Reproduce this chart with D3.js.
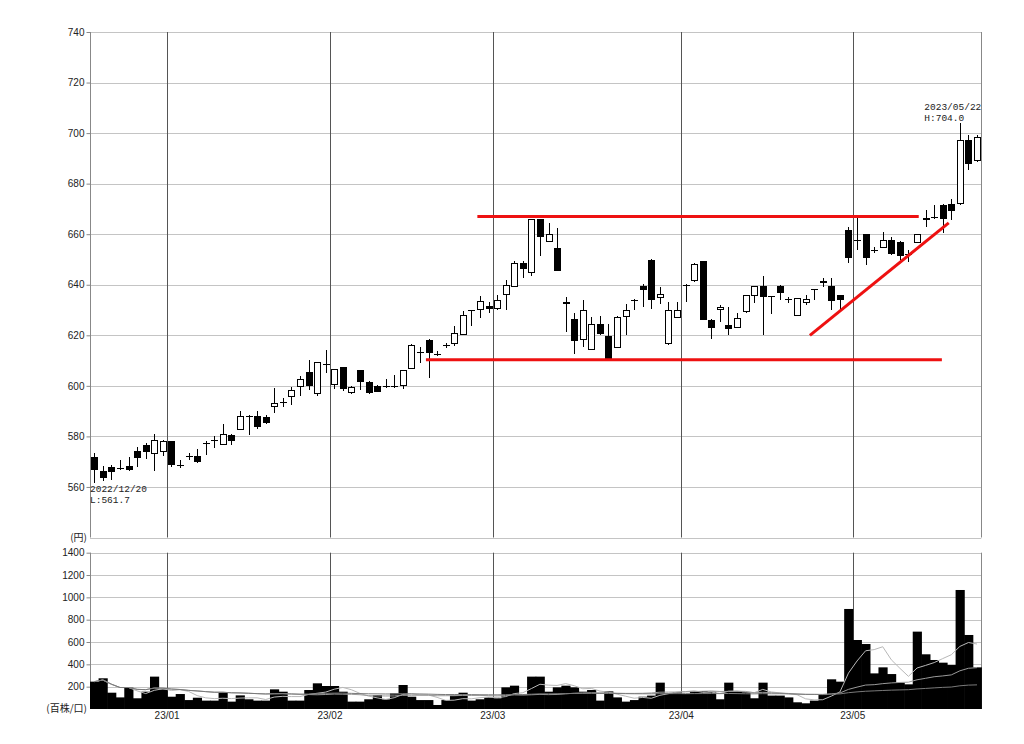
<!DOCTYPE html>
<html><head><meta charset="utf-8">
<script src="https://cdn.jsdelivr.net/npm/d3@7"></script>
<style>
html,body{margin:0;padding:0;background:#fff;}
svg{display:block;}
.tick text{font-family:"Liberation Sans",Arial,sans-serif;font-size:10px;fill:#222;}
</style></head>
<body>
<svg id="chart" width="1024" height="744"></svg>
<script>
// ---- Trading days (categories) ----
const daysDec22 = [20,21,22,23,26,27,28,29,30];
const daysJan23 = [4,5,6,10,11,12,13,16,17,18,19,20,23,24,25,26,27,30,31];
const daysFeb23 = [1,2,3,6,7,8,9,10,13,14,15,16,17,20,21,22,24,27,28];
const daysMar23 = [1,2,3,6,7,8,9,10,13,14,15,16,17,20,22,23,24,27,28,29,30,31];
const daysApr23 = [3,4,5,6,7,10,11,12,13,14,17,18,19,20,21,24,25,26,27,28];
const daysMay23 = [1,2,8,9,10,11,12,15,16,17,18,19,22,23,24];

// ---- Price series (yen) ----
const openP = [571.7,566.2,567.9,567.2,568.4,574.1,576.6,573.2,573.8,578.0,
568.8,572.0,572.1,577.0,578.5,576.7,580.7,582.6,588.2,588.0,
587.8,591.5,593.3,595.5,599.7,605.3,596.8,608.8,600.4,607.3,
597.1,606.1,601.7,600.0,599.9,600.0,600.0,606.8,613.5,618.3,
612.6,615.8,616.7,620.0,629.8,630.1,631.7,630.4,636.1,639.1,
648.8,644.6,665.9,657.1,654.7,632.5,626.5,618.0,614.1,624.3,
619.6,615.1,627.2,634.1,639.7,649.9,634.9,616.4,627.0,639.5,
641.4,649.3,626.2,629.9,624.0,622.9,629.1,635.4,639.6,635.5,
639.7,634.1,627.8,632.9,638.3,641.4,639.6,635.8,661.7,657.5,
659.9,653.6,654.7,657.6,657.0,652.3,656.6,666.6,666.7,671.4,
671.8,671.8,697.4,688.8];
const highP = [573.4,568.4,568.5,570.8,571.8,575.8,577.4,580.9,578.6,578.2,
570.5,573.4,575.0,578.3,580.0,585.0,580.9,590.1,588.5,590.1,
588.5,599.1,595.0,599.7,603.7,610.3,609.6,614.0,606.8,607.5,
599.9,606.3,601.9,600.3,602.6,604.4,606.3,616.5,615.5,618.5,
613.8,616.8,623.6,629.5,630.2,635.4,633.0,636.0,642.0,649.2,
649.2,665.9,665.9,664.6,662.6,635.2,629.0,633.8,627.2,627.5,
624.6,627.5,632.5,634.3,640.4,650.0,639.1,633.2,633.2,640.2,
648.5,649.5,626.4,631.8,631.1,628.8,636.0,639.6,643.6,635.6,
639.8,635.1,634.9,636.0,638.5,642.6,642.6,636.0,663.0,667.5,
660.0,655.0,660.9,659.0,657.2,653.7,660.2,669.5,671.4,672.1,
674.1,704.0,699.1,699.3];
const lowP = [561.7,562.2,562.9,566.8,566.2,567.9,571.0,566.4,572.2,568.0,
567.5,570.8,569.5,572.8,575.4,576.4,576.7,582.6,580.7,583.0,
585.0,589.1,591.5,592.5,596.0,598.4,596.0,605.0,598.7,598.0,
596.8,598.4,596.8,597.5,599.0,599.0,598.7,606.6,609.2,603.0,
612.0,615.0,615.7,620.0,623.6,626.8,628.8,630.0,630.1,639.1,
642.6,643.6,651.2,657.0,645.5,621.5,612.6,615.4,614.0,620.0,
610.3,615.0,620.0,629.9,631.2,630.5,632.5,616.0,626.8,633.2,
641.2,626.2,618.7,625.3,620.3,622.9,629.0,632.8,620.3,628.6,
634.0,632.8,627.7,632.0,634.1,639.0,630.1,630.1,648.8,653.7,
647.8,652.4,654.6,651.7,649.7,649.1,656.5,663.0,666.2,660.3,
665.5,671.6,685.5,688.6];
const closeP = [566.8,563.6,565.9,567.5,566.8,571.4,574.0,578.7,578.0,568.6,
568.6,572.2,569.7,577.2,578.7,581.1,578.0,588.2,588.0,583.7,
585.4,593.4,593.5,598.4,602.6,600.0,609.4,608.6,606.6,598.7,
599.7,601.7,597.1,597.7,600.1,600.1,606.1,616.3,613.3,612.8,
612.4,616.0,620.9,628.2,630.0,633.4,630.5,633.8,640.0,648.6,
646.2,665.9,658.7,660.0,645.5,633.3,617.8,630.1,624.6,620.7,
610.5,627.2,629.9,633.4,638.0,634.1,636.2,630.1,629.9,640.0,
648.3,626.2,623.0,631.2,622.6,626.8,635.8,639.6,635.0,635.4,
636.7,634.3,634.7,634.4,637.8,640.7,633.4,634.1,650.5,657.7,
650.4,653.8,657.6,652.1,651.4,652.1,660.0,665.5,666.9,666.2,
669.1,697.1,687.6,698.4];

// ---- Volume (百株) ----
const volume = [245,275,146,104,191,96,155,290,176,110,
134,80,101,75,75,150,66,122,87,75,
75,176,155,75,75,170,230,206,206,155,
66,66,87,125,87,140,215,110,80,80,
36,80,120,146,75,87,104,96,194,209,
125,290,290,155,194,209,194,155,170,75,
158,104,66,80,110,120,236,140,150,134,
158,161,155,87,236,161,150,96,236,120,
120,104,60,51,75,125,266,245,896,618,
582,319,373,313,236,221,693,490,439,415,
394,1066,663,373];

// ---- Axis ticks / labels ----
const priceTicks = [560,580,600,620,640,660,680,700,720,740];
const volumeTicks = [200,400,600,800,1000,1200,1400];
const monthLabels = ["23/01","23/02","23/03","23/04","23/05"];
const monthKeys = ["2023/01","2023/02","2023/03","2023/04","2023/05"];
const maPeriods = [5,25,75];

// ---- Annotation lines: [day index, price] ----
const resistanceLine = [[44.7,667.0],[96.2,667.0]];
const supportLine = [[38.7,610.3],[98.9,610.3]];
const trendLine = [[83.5,620.0],[99.7,664.5]];

// ---------------------------------------------------------
const pad = n => String(n).padStart(2,"0");
const dates = [].concat(
  daysDec22.map(d=>"2022/12/"+pad(d)),
  daysJan23.map(d=>"2023/01/"+pad(d)),
  daysFeb23.map(d=>"2023/02/"+pad(d)),
  daysMar23.map(d=>"2023/03/"+pad(d)),
  daysApr23.map(d=>"2023/04/"+pad(d)),
  daysMay23.map(d=>"2023/05/"+pad(d)));
const n = dates.length;

const svg = d3.select("#chart");
const L = 90, R = 981.3;
const pTop = 32, pBot = 537.5, vTop = 552.7, vBot = 709;

const x = d3.scaleBand().domain(d3.range(n)).range([L,R]).padding(0);
const bw = x.bandwidth();
const xc = i => x(0) + (i+0.5)*bw;
const yP = d3.scaleLinear().domain([540,740]).range([pBot,pTop]);
const yV = d3.scaleLinear().domain([0,1400]).range([vBot,vTop]);

const gridColor = "#c4c4c4", monthColor = "#555", axisColor = "#888";

// horizontal grid - price
svg.append("g").selectAll("line").data(priceTicks.concat([540])).join("line")
  .attr("x1",L).attr("x2",R)
  .attr("y1",d=>Math.round(yP(d))+0.5).attr("y2",d=>Math.round(yP(d))+0.5)
  .attr("stroke",gridColor).attr("stroke-width",1);
// horizontal grid - volume
svg.append("g").selectAll("line").data(volumeTicks).join("line")
  .attr("x1",L).attr("x2",R)
  .attr("y1",d=>Math.round(yV(d))+0.5).attr("y2",d=>Math.round(yV(d))+0.5)
  .attr("stroke",gridColor).attr("stroke-width",1);

// month boundary lines
const monthIdx = monthKeys.map(k => dates.findIndex(d => d.startsWith(k)));
const mg = svg.append("g");
monthIdx.forEach(i=>{
  const xx = Math.round(x(i))+0.5;
  mg.append("line").attr("x1",xx).attr("x2",xx).attr("y1",pTop).attr("y2",pBot)
    .attr("stroke",monthColor).attr("stroke-width",1);
  mg.append("line").attr("x1",xx).attr("x2",xx).attr("y1",vTop).attr("y2",vBot)
    .attr("stroke",monthColor).attr("stroke-width",1);
});
// right border
[[pTop,pBot],[vTop,vBot]].forEach(([a,b])=>{
  svg.append("line").attr("x1",Math.round(R)+0.5).attr("x2",Math.round(R)+0.5)
    .attr("y1",a).attr("y2",b).attr("stroke",axisColor);
});

// axes
const ax1 = svg.append("g").attr("transform",`translate(${L+0.5},0)`)
  .call(d3.axisLeft(yP).tickValues(priceTicks).tickFormat(d3.format("d")).tickSize(4).tickSizeOuter(0).tickPadding(2));
const ax2 = svg.append("g").attr("transform",`translate(${L+0.5},0)`)
  .call(d3.axisLeft(yV).tickValues(volumeTicks).tickFormat(d3.format("d")).tickSize(4).tickSizeOuter(0).tickPadding(2));
[ax1,ax2].forEach(a=>{
  a.select(".domain").attr("stroke",axisColor);
  a.selectAll(".tick line").attr("stroke",axisColor);
});
ax1.select(".domain").attr("d",`M0,${pTop}V${pBot}`);
ax2.select(".domain").attr("d",`M0,${vTop}V${vBot}`);

// unit labels
svg.append("text").attr("x",87).attr("y",541).attr("text-anchor","end")
  .attr("font-family","'Noto Sans CJK JP',sans-serif").attr("font-size",10).attr("fill","#222").text("(円)");
svg.append("text").attr("x",87).attr("y",712).attr("text-anchor","end")
  .attr("font-family","'Noto Sans CJK JP',sans-serif").attr("font-size",10).attr("fill","#222").text("(百株/口)");

// month labels
svg.append("g").selectAll("text").data(monthIdx).join("text")
  .attr("x",i=>x(i)).attr("y",719).attr("text-anchor","middle")
  .attr("font-family","'Liberation Sans',Arial,sans-serif").attr("font-size",10).attr("fill","#222")
  .text((d,k)=>monthLabels[k]);

// volume bars
svg.append("g").selectAll("rect").data(volume).join("rect")
  .attr("x",(d,i)=>x(i)).attr("width",bw+0.6)
  .attr("y",d=>yV(d)).attr("height",d=>vBot-yV(d))
  .attr("fill","#000");

// volume moving averages
const maColors = ["#b8b8b8","#9a9a9a","#7a7a7a"];
maPeriods.forEach((p,k)=>{
  const ma = volume.map((v,i)=>d3.mean(volume.slice(Math.max(0,i-p+1),i+1)));
  svg.append("path").datum(ma)
    .attr("d",d3.line().x((d,i)=>xc(i)).y(d=>yV(d)))
    .attr("fill","none").attr("stroke",maColors[k]).attr("stroke-width",1);
});

// candles
const cg = svg.append("g");
d3.range(n).forEach(i=>{
  const o=openP[i], h=highP[i], l=lowP[i], c=closeP[i];
  const cx = Math.round(xc(i));
  cg.append("line").attr("x1",cx+0.5).attr("x2",cx+0.5)
    .attr("y1",Math.round(yP(h))).attr("y2",Math.round(yP(l)))
    .attr("stroke","#000").attr("stroke-width",1);
  let t = Math.round(Math.min(yP(o),yP(c))), b = Math.round(Math.max(yP(o),yP(c)));
  if (b - t < 1) b = t + 1;
  const up = c >= o;
  cg.append("rect").attr("x",cx-2.5).attr("width",6)
    .attr("y",t+0.5).attr("height",Math.max(b-t-1,0.01))
    .attr("fill",up?"#fff":"#000").attr("stroke","#000").attr("stroke-width",1);
});

// annotation lines
[resistanceLine, supportLine, trendLine].forEach(seg=>{
  svg.append("line")
    .attr("x1",xc(seg[0][0])).attr("y1",yP(seg[0][1]))
    .attr("x2",xc(seg[1][0])).attr("y2",yP(seg[1][1]))
    .attr("stroke","#ee1111").attr("stroke-width",3);
});

// high / low labels
const lblFont = "'Liberation Mono','DejaVu Sans Mono',monospace";
const lblSize = 9.5;
const iLow = d3.minIndex(lowP), iHigh = d3.maxIndex(highP);
const lowG = svg.append("g").attr("font-family",lblFont).attr("font-size",lblSize).attr("fill","#222");
const ly = yP(lowP[iLow]);
lowG.append("text").attr("x",Math.max(L, x(iLow))).attr("y",ly+9.5).text(dates[iLow]);
lowG.append("text").attr("x",Math.max(L, x(iLow))).attr("y",ly+20.5).text("L:"+lowP[iLow].toFixed(1));

const hiG = svg.append("g").attr("font-family",lblFont).attr("font-size",lblSize).attr("fill","#222");
const hy = yP(highP[iHigh]);
const t1 = hiG.append("text").attr("y",hy-12.5).text(dates[iHigh]);
const t2 = hiG.append("text").attr("y",hy-1.5).text("H:"+highP[iHigh].toFixed(1));
const tw = Math.max(t1.node().getComputedTextLength(), t2.node().getComputedTextLength());
const hx = Math.min(x(iHigh), R - tw);
t1.attr("x",hx); t2.attr("x",hx);
</script>
</body></html>
